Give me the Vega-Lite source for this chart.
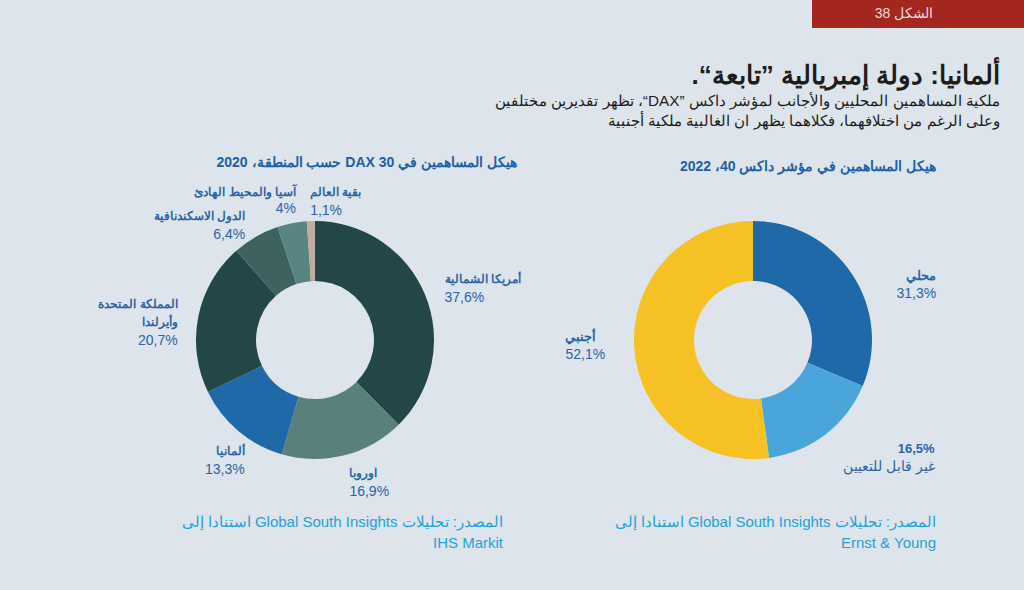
{
  "$schema": "https://vega.github.io/schema/vega-lite/v6.json",
  "background": "#dde4eb",
  "padding": {"left": 98, "top": 0, "right": 0, "bottom": 48},
  "spacing": 25,
  "config": {
    "view": {"stroke": null},
    "font": "Liberation Sans",
    "title": {"font": "Liberation Sans", "subtitleFont": "Liberation Sans"}
  },
  "vconcat": [
    {
      "bounds": "flush",
      "spacing": 0,
      "hconcat": [
        {
          "width": 697,
          "height": 28,
          "data": {"values": [{}]},
          "mark": {"type": "rect", "opacity": 0},
          "encoding": {}
        },
        {
          "width": 212,
          "height": 28,
          "data": {"values": [{"figure": "الشكل 38"}]},
          "title": {
            "text": "\u202bألمانيا: دولة إمبريالية ”تابعة“.\u202c",
            "subtitle": [
              "\u202bملكية المساهمين المحليين والأجانب لمؤشر داكس ”DAX“، تظهر تقديرين مختلفين\u202c",
              "\u202bوعلى الرغم من اختلافهما، فكلاهما يظهر ان الغالبية ملكية أجنبية\u202c"
            ],
            "orient": "bottom",
            "anchor": "end",
            "frame": "group",
            "dx": -24,
            "offset": 35,
            "fontSize": 26,
            "fontWeight": "bold",
            "color": "#1d1d1b",
            "subtitleFontSize": 15.3,
            "subtitleColor": "#1d1d1b",
            "subtitlePadding": 5,
            "subtitleLineHeight": 20
          },
          "layer": [
            {"mark": {"type": "rect", "color": "#a3271f"}, "encoding": {}},
            {
              "mark": {"type": "text", "color": "#f3ddd8", "fontSize": 14, "dx": -14},
              "encoding": {"text": {"field": "figure", "type": "nominal"}}
            }
          ]
        }
      ]
    },
    {
      "spacing": 16,
      "vconcat": [
        {
          "bounds": "flush",
          "spacing": 38,
          "resolve": {"scale": {"color": "independent", "theta": "independent"}},
          "hconcat": [
            {
              "width": 400,
              "height": 300,
              "data": {
                "values": [
                  {"rank": 1, "region": "أمريكا الشمالية", "share": 37.6, "top": "أمريكا الشمالية", "bottom": "37,6%"},
                  {"rank": 2, "region": "اوروبا", "share": 16.9, "top": "اوروبا", "bottom": "16,9%"},
                  {"rank": 3, "region": "ألمانيا", "share": 13.3, "top": "ألمانيا", "bottom": "13,3%"},
                  {"rank": 4, "region": "المملكة المتحدة وأيرلندا", "share": 20.7, "top": "المملكة المتحدة\nوأيرلندا", "bottom": "20,7%"},
                  {"rank": 5, "region": "الدول الاسكندنافية", "share": 6.4, "top": "الدول الاسكندنافية", "bottom": "6,4%"},
                  {"rank": 6, "region": "آسيا والمحيط الهادئ", "share": 4, "top": "آسيا والمحيط الهادئ", "bottom": "4%"},
                  {"rank": 7, "region": "بقية العالم", "share": 1.1, "top": "بقية العالم", "bottom": "1,1%"}
                ]
              },
              "title": {
                "text": "\u202bهيكل المساهمين في DAX 30 حسب المنطقة، 2020\u202c",
                "anchor": "end",
                "frame": "group",
                "dx": 2,
                "offset": 16,
                "fontSize": 14,
                "fontWeight": "bold",
                "color": "#1f5fa5"
              },
              "encoding": {
                "theta": {"field": "share", "type": "quantitative", "stack": true},
                "order": {"field": "rank", "type": "quantitative"}
              },
              "layer": [
                {
                  "mark": {"type": "arc", "innerRadius": 59, "outerRadius": 119},
                  "encoding": {
                    "color": {
                      "field": "region",
                      "type": "nominal",
                      "legend": null,
                      "scale": {
                        "domain": ["أمريكا الشمالية", "اوروبا", "ألمانيا", "المملكة المتحدة وأيرلندا", "الدول الاسكندنافية", "آسيا والمحيط الهادئ", "بقية العالم"],
                        "range": ["#234746", "#5a807e", "#1f69a8", "#234746", "#3e6260", "#5a8482", "#c4aba2"]
                      }
                    }
                  }
                },
                {
                  "mark": {"type": "text", "radius": 140, "fontWeight": "bold", "fontSize": 12, "baseline": "bottom", "lineBreak": "\n", "lineHeight": 18, "color": "#2b63a6",
                    "align": {"expr": "datum.rank <= 2 || datum.rank >= 7 ? 'left' : 'right'"},
                    "dx": {"expr": "datum.rank == 3 ? 20 : datum.rank == 6 ? 8 : 0"},
                    "dy": {"expr": "datum.rank == 3 ? 11 : (datum.rank == 2 || datum.rank == 5) ? 4 : datum.rank == 6 ? -4 : -1"}},
                  "encoding": {"text": {"field": "top", "type": "nominal"}}
                },
                {
                  "mark": {"type": "text", "radius": 140, "fontSize": 14, "baseline": "top", "color": "#2b63a6",
                    "align": {"expr": "datum.rank <= 2 || datum.rank >= 7 ? 'left' : 'right'"},
                    "dx": {"expr": "datum.rank == 3 ? 20 : datum.rank == 6 ? 8 : 0"},
                    "dy": {"expr": "datum.rank == 4 ? 22 : datum.rank == 3 ? 16 : (datum.rank == 2 || datum.rank == 5) ? 9 : datum.rank == 6 ? -1 : 4"}},
                  "encoding": {"text": {"field": "bottom", "type": "nominal"}}
                }
              ]
            },
            {
              "width": 400,
              "height": 300,
              "data": {
                "values": [
                  {"rank": 1, "region": "محلي", "share": 31.3, "top": "محلي", "bottom": "31,3%"},
                  {"rank": 2, "region": "غير قابل للتعيين", "share": 16.5, "top": "16,5%", "bottom": "غير قابل للتعيين"},
                  {"rank": 3, "region": "أجنبي", "share": 52.1, "top": "أجنبي", "bottom": "52,1%"}
                ]
              },
              "title": {
                "text": "\u202bهيكل المساهمين في مؤشر داكس 40، 2022\u202c",
                "anchor": "end",
                "frame": "group",
                "dx": -17,
                "offset": 16,
                "fontSize": 14,
                "fontWeight": "bold",
                "color": "#1f5fa5"
              },
              "encoding": {
                "theta": {"field": "share", "type": "quantitative", "stack": true},
                "order": {"field": "rank", "type": "quantitative"}
              },
              "layer": [
                {
                  "mark": {"type": "arc", "innerRadius": 59, "outerRadius": 119},
                  "encoding": {
                    "color": {
                      "field": "region",
                      "type": "nominal",
                      "legend": null,
                      "scale": {
                        "domain": ["محلي", "غير قابل للتعيين", "أجنبي"],
                        "range": ["#1f69a8", "#4aa5db", "#f5c124"]
                      }
                    }
                  }
                },
                {
                  "mark": {"type": "text", "radius": 190, "fontWeight": "bold", "fontSize": 13, "baseline": "bottom", "color": "#2b63a6",
                    "align": {"expr": "datum.rank == 3 ? 'left' : 'right'"},
                    "dx": {"expr": "datum.rank == 1 ? 25 : datum.rank == 2 ? 66 : 2"},
                    "dy": {"expr": "datum.rank == 1 ? 48 : datum.rank == 2 ? -35 : -9"}},
                  "encoding": {"text": {"field": "top", "type": "nominal"}}
                },
                {
                  "mark": {"type": "text", "radius": 190, "fontSize": 14, "baseline": "top", "color": "#2b63a6",
                    "align": {"expr": "datum.rank == 3 ? 'left' : 'right'"},
                    "dx": {"expr": "datum.rank == 1 ? 25 : datum.rank == 2 ? 66 : 2"},
                    "dy": {"expr": "datum.rank == 1 ? 52 : datum.rank == 2 ? -31 : -5"}},
                  "encoding": {"text": {"field": "bottom", "type": "nominal"}}
                }
              ]
            }
          ]
        },
        {
          "bounds": "flush",
          "spacing": 38,
          "hconcat": [
            {
              "width": 400,
              "height": 1,
              "data": {"values": [{"source": "IHS Markit"}]},
              "title": {
                "text": ["\u202bالمصدر: تحليلات Global South Insights استنادا إلى\u202c", "IHS Markit"],
                "anchor": "end",
                "frame": "group",
                "dx": -12,
                "offset": 0,
                "fontSize": 15,
                "fontWeight": "normal",
                "lineHeight": 21,
                "color": "#22a2dc"
              },
              "mark": {"type": "rect", "opacity": 0},
              "encoding": {}
            },
            {
              "width": 400,
              "height": 1,
              "data": {"values": [{"source": "Ernst & Young"}]},
              "title": {
                "text": ["\u202bالمصدر: تحليلات Global South Insights استنادا إلى\u202c", "Ernst & Young"],
                "anchor": "end",
                "frame": "group",
                "dx": -17,
                "offset": 0,
                "fontSize": 15,
                "fontWeight": "normal",
                "lineHeight": 21,
                "color": "#22a2dc"
              },
              "mark": {"type": "rect", "opacity": 0},
              "encoding": {}
            }
          ]
        }
      ]
    }
  ]
}
